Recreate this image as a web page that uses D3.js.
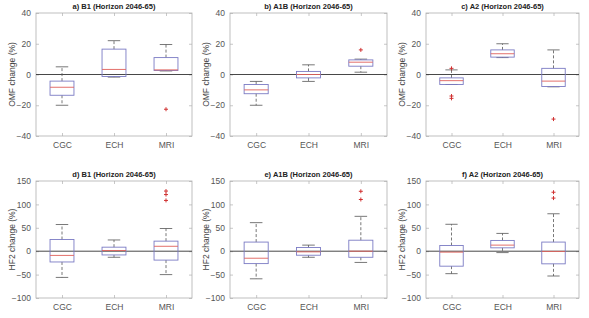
<!DOCTYPE html>
<html>
<head>
<meta charset="utf-8">
<script src="https://cdn.jsdelivr.net/npm/d3@7"></script>
<style>
  body { margin: 0; background: #fff; }
  text { font-family: Arial, "Liberation Sans", sans-serif; }
</style>
</head>
<body>
<svg id="chart" width="589" height="318"></svg>
<script>
// models on the x axis
const models = ["CGC", "ECH", "MRI"];

// panel titles
const titles = [
  "a) B1 (Horizon 2046-65)", "b) A1B (Horizon 2046-65)", "c) A2 (Horizon 2046-65)",
  "d) B1 (Horizon 2046-65)", "e) A1B (Horizon 2046-65)", "f) A2 (Horizon 2046-65)"
];
const yLabels = ["OMF change (%)", "HF2 change (%)"];
const omfTicks = [-40, -20, 0, 20, 40];
const hf2Ticks = [-100, -50, 0, 50, 100, 150];

// box stats per model: [lower whisker, q1, median, q3, upper whisker]
const omfB1 = [[-20, -13.5, -8.3, -4.3, 5], [-1.7, -1.3, 3.3, 16.5, 22], [2.3, 2.6, 3, 11, 19.5]];
const omfA1B = [[-20, -12.5, -10, -6.5, -4.5], [-4.5, -2.2, 0, 2, 6.3], [1.5, 5.4, 8, 9.5, 10]];
const omfA2 = [[-6.5, -6.5, -4, -2.2, 3], [11, 11.3, 13.5, 16, 20], [-8, -7.8, -4.3, 4, 16]];
const hf2B1 = [[-56, -23, -9, 25, 57], [-13, -8, 1.5, 8.6, 24], [-50, -19, 10.5, 21.5, 48.5]];
const hf2A1B = [[-59, -26.5, -15, 19.5, 61], [-13, -8.6, -1.4, 8, 13], [-24, -13, 0, 23.5, 74.5]];
const hf2A2 = [[-48, -32, -2, 12.2, 57.5], [-3, 7.2, 13, 23, 38], [-53, -27, -0.5, 19.5, 80]];

// outliers per model
const omfB1Out = [[], [], [-22.6]];
const omfA1BOut = [[], [], [16]];
const omfA2Out = [[4, -14, -15.5], [], [-29]];
const hf2B1Out = [[], [], [108.5, 121, 128.5]];
const hf2A1BOut = [[], [], [110.5, 128]];
const hf2A2Out = [[], [], [113.5, 126]];

const stats = [omfB1, omfA1B, omfA2, hf2B1, hf2A1B, hf2A2];
const outs = [omfB1Out, omfA1BOut, omfA2Out, hf2B1Out, hf2A1BOut, hf2A2Out];

const svg = d3.select("#chart");

// axes placement (col left/width, row top/bottom)
const cols = [{x: 36, w: 156}, {x: 230, w: 157}, {x: 426, w: 153}];
const rows = [{y0: 13, y1: 136}, {y0: 181, y1: 298}];

const boxColor = "#7b7bc4";
const medColor = "#e0605a";
const whiskColor = "#555";

for (let p = 0; p < 6; p++) {
  const r = Math.floor(p / 3), c = p % 3;
  const col = cols[c], row = rows[r];
  const ticks = r === 0 ? omfTicks : hf2Ticks;

  const x = d3.scaleLinear().domain([0.5, 3.5]).range([0, col.w]);
  const y = d3.scaleLinear().domain(d3.extent(ticks)).range([row.y1 - row.y0, 0]);

  const g = svg.append("g").attr("transform", `translate(${col.x},${row.y0})`);

  // frame
  g.append("rect")
    .attr("width", col.w).attr("height", row.y1 - row.y0)
    .attr("fill", "none").attr("stroke", "#b0b0b0").attr("stroke-width", 0.8);

  // y axis ticks + labels
  const yAx = g.append("g").call(d3.axisLeft(y).tickValues(ticks).tickSize(-3).tickPadding(5));
  const yAxR = g.append("g").attr("transform", `translate(${col.w},0)`)
    .call(d3.axisRight(y).tickValues(ticks).tickSize(-3).tickFormat(""));
  const xAx = g.append("g").attr("transform", `translate(0,${row.y1 - row.y0})`)
    .call(d3.axisBottom(x).tickValues([1, 2, 3]).tickSize(-3).tickPadding(6)
      .tickFormat((d) => models[d - 1]));
  const xAxT = g.append("g").call(d3.axisTop(x).tickValues([1, 2, 3]).tickSize(-3).tickFormat(""));

  [yAx, yAxR, xAx, xAxT].forEach(a => {
    a.select(".domain").remove();
    a.selectAll(".tick line").attr("stroke", "#b0b0b0").attr("stroke-width", 0.7);
    a.selectAll(".tick text").attr("fill", "#555").style("font-size", "8.5px");
  });

  // zero line
  g.append("line")
    .attr("x1", 0).attr("x2", col.w).attr("y1", y(0)).attr("y2", y(0))
    .attr("stroke", "#333").attr("stroke-width", 0.9);

  // title
  g.append("text")
    .attr("x", col.w / 2).attr("y", -4)
    .attr("text-anchor", "middle")
    .style("font-size", "7.5px").style("font-weight", "bold").attr("fill", "#222")
    .text(titles[p]);

  // y label
  g.append("text")
    .attr("transform", `translate(-21,${(row.y1 - row.y0) / 2}) rotate(-90)`)
    .attr("text-anchor", "middle")
    .style("font-size", "8.5px").attr("fill", "#444")
    .text(yLabels[r]);

  const bw = x(1.23) - x(1);
  const cw = x(1.12) - x(1);

  stats[p].forEach((s, i) => {
    const cx = x(i + 1);
    const [lo, q1, med, q3, hi] = s;
    // whiskers
    g.append("line").attr("x1", cx).attr("x2", cx).attr("y1", y(q3)).attr("y2", y(hi))
      .attr("stroke", whiskColor).attr("stroke-width", 0.8).attr("stroke-dasharray", "3,2");
    g.append("line").attr("x1", cx).attr("x2", cx).attr("y1", y(q1)).attr("y2", y(lo))
      .attr("stroke", whiskColor).attr("stroke-width", 0.8).attr("stroke-dasharray", "3,2");
    // caps
    [lo, hi].forEach(v => {
      g.append("line").attr("x1", cx - cw).attr("x2", cx + cw).attr("y1", y(v)).attr("y2", y(v))
        .attr("stroke", whiskColor).attr("stroke-width", 0.8);
    });
    // box
    g.append("rect")
      .attr("x", cx - bw).attr("width", 2 * bw)
      .attr("y", y(q3)).attr("height", Math.max(0.5, y(q1) - y(q3)))
      .attr("fill", "none").attr("stroke", boxColor).attr("stroke-width", 0.9);
    // median
    g.append("line").attr("x1", cx - bw).attr("x2", cx + bw).attr("y1", y(med)).attr("y2", y(med))
      .attr("stroke", medColor).attr("stroke-width", 0.9);
    // outliers
    outs[p][i].forEach(v => {
      g.append("path")
        .attr("d", `M${cx - 2},${y(v)}h4M${cx},${y(v) - 2}v4`)
        .attr("stroke", "#d03030").attr("stroke-width", 1);
    });
  });
}
</script>
</body>
</html>
